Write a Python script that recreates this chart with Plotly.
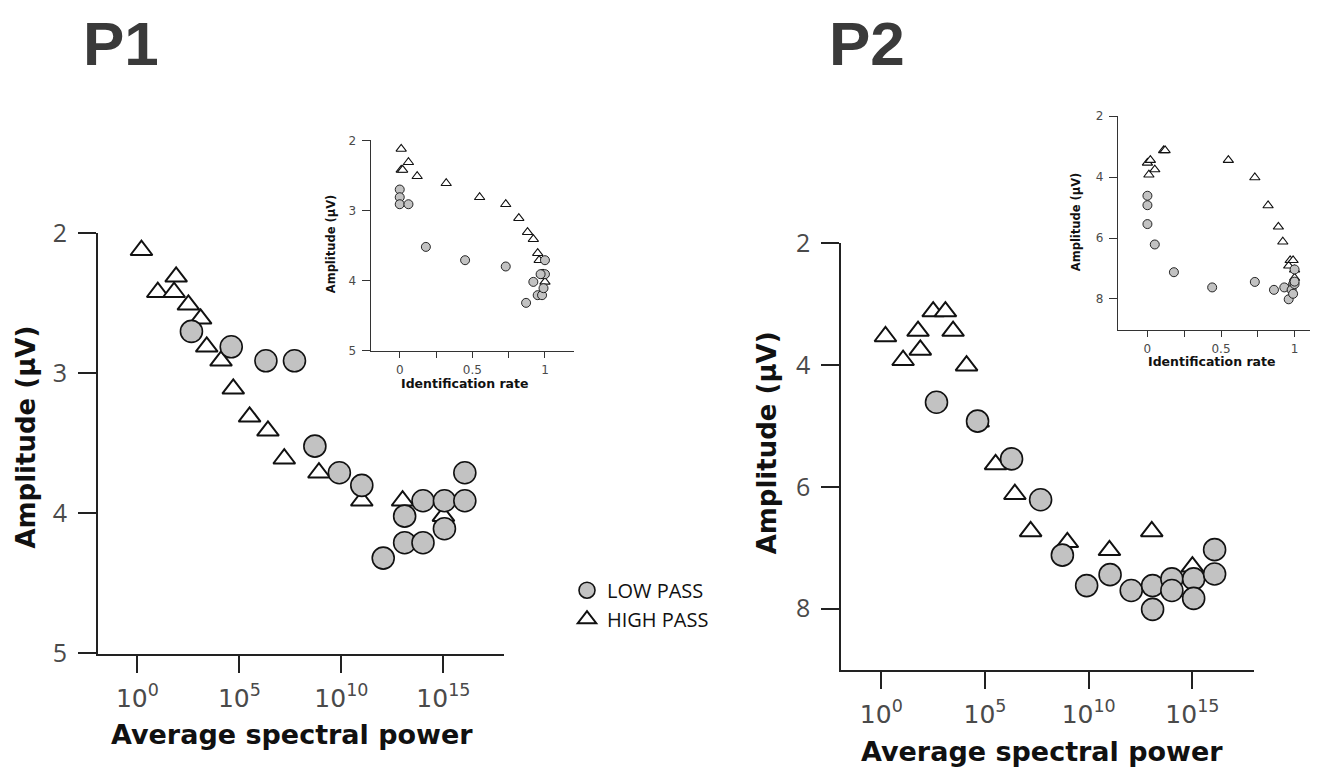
import plotly.graph_objects as go

W, H = 1318, 772

# ---------------- data ----------------
# P1 : HIGH PASS (triangles)
p1_hp_power_exp = [0.2, 1.9, 1.0, 1.8, 2.5, 3.1, 3.4, 4.1, 4.7, 5.5, 6.4, 7.2, 8.9, 11.0, 13.0, 15.0]
p1_hp_amp = [2.12, 2.31, 2.42, 2.42, 2.51, 2.61, 2.81, 2.91, 3.11, 3.31, 3.41, 3.61, 3.71, 3.91, 3.91, 4.02]
p1_hp_idrate = [0.01, 0.06, 0.01, 0.02, 0.12, 0.32, 0.55, 0.73, 0.82, 0.88, 0.92, 0.95, 0.96, 0.98, 0.99, 1.0]

# P1 : LOW PASS (circles)
p1_lp_power_exp = [2.65, 4.6, 6.3, 7.7, 8.7, 9.9, 11.0, 12.05, 13.1, 13.1, 14.0, 14.0, 15.05, 15.05, 16.05, 16.05]
p1_lp_amp = [2.70, 2.81, 2.91, 2.91, 3.52, 3.71, 3.80, 4.32, 4.02, 4.21, 3.91, 4.21, 3.91, 4.11, 3.71, 3.91]
p1_lp_idrate = [0.0, 0.0, 0.0, 0.06, 0.18, 0.45, 0.73, 0.87, 0.92, 0.95, 0.98, 0.98, 1.0, 0.99, 1.0, 0.97]

# P2 : HIGH PASS (triangles)
p2_hp_power_exp = [0.2, 1.05, 1.77, 1.88, 2.5, 3.09, 3.46, 4.11, 4.67, 5.51, 6.44, 7.2, 8.97, 11.0, 13.04, 15.0]
p2_hp_amp = [3.53, 3.92, 3.44, 3.75, 3.12, 3.12, 3.44, 4.01, 4.93, 5.63, 6.12, 6.73, 6.91, 7.04, 6.73, 7.31]
p2_hp_idrate = [0.0, 0.01, 0.02, 0.05, 0.11, 0.12, 0.55, 0.73, 0.82, 0.89, 0.92, 0.97, 0.96, 1.0, 0.99, 1.0]

# P2 : LOW PASS (circles)
p2_lp_power_exp = [2.66, 4.64, 6.28, 7.68, 8.73, 9.9, 11.03, 12.05, 13.08, 13.08, 14.01, 14.01, 15.06, 15.06, 16.07, 16.07]
p2_lp_amp = [4.61, 4.92, 5.54, 6.21, 7.12, 7.62, 7.44, 7.70, 7.62, 8.01, 7.51, 7.70, 7.51, 7.83, 7.03, 7.43]
p2_lp_idrate = [0.0, 0.0, 0.0, 0.05, 0.18, 0.44, 0.73, 0.86, 0.93, 0.96, 0.99, 0.98, 1.0, 0.99, 1.0, 1.0]

power_tickvals = [1, 1e5, 1e10, 1e15]
power_ticktext = ["10<sup>0</sup>", "10<sup>5</sup>", "10<sup>10</sup>", "10<sup>15</sup>"]
p1_amp_ticks = [2, 3, 4, 5]
p2_amp_ticks = [2, 4, 6, 8]
id_tickvals = [0, 0.5, 1]
id_ticktext = ["0", "0.5", "1"]
id_minor_ticks = [0.25, 0.75]

legend_names = ["LOW PASS", "HIGH PASS"]

# ---------------- styles ----------------
CIRCLE_FILL = "#c2c2c2"
EDGE = "#111111"
AXIS = "#222222"
TICKFONT = "#4a4a4a"


def px_x(a, b):
    return [a / W, b / W]


def px_y(top, bottom):
    return [1 - bottom / H, 1 - top / H]


fig = go.Figure()


def add_main(xa, ya, hp_e, hp_a, lp_e, lp_a, show):
    fig.add_trace(go.Scatter(
        x=[10 ** e for e in hp_e], y=hp_a, mode="markers", name=legend_names[1],
        xaxis=xa, yaxis=ya, showlegend=show, legendrank=2,
        marker=dict(symbol="triangle-up", size=19, color="white",
                    line=dict(color=EDGE, width=2)),
    ))
    fig.add_trace(go.Scatter(
        x=[10 ** e for e in lp_e], y=lp_a, mode="markers", name=legend_names[0],
        xaxis=xa, yaxis=ya, showlegend=show, legendrank=1,
        marker=dict(symbol="circle", size=22, color=CIRCLE_FILL,
                    line=dict(color=EDGE, width=1.6)),
    ))


def add_inset(xa, ya, hp_r, hp_a, lp_r, lp_a):
    fig.add_trace(go.Scatter(
        x=hp_r, y=hp_a, mode="markers", xaxis=xa, yaxis=ya, showlegend=False,
        marker=dict(symbol="triangle-up", size=9, color="white",
                    line=dict(color=EDGE, width=1.1)),
    ))
    fig.add_trace(go.Scatter(
        x=lp_r, y=lp_a, mode="markers", xaxis=xa, yaxis=ya, showlegend=False,
        marker=dict(symbol="circle", size=9, color=CIRCLE_FILL,
                    line=dict(color=EDGE, width=0.9)),
    ))


add_main("x", "y", p1_hp_power_exp, p1_hp_amp, p1_lp_power_exp, p1_lp_amp, True)
add_inset("x2", "y2", p1_hp_idrate, p1_hp_amp, p1_lp_idrate, p1_lp_amp)
add_main("x3", "y3", p2_hp_power_exp, p2_hp_amp, p2_lp_power_exp, p2_lp_amp, False)
add_inset("x4", "y4", p2_hp_idrate, p2_hp_amp, p2_lp_idrate, p2_lp_amp)

main_x = dict(type="log", range=[-1.93, 17.97], tickvals=power_tickvals, ticktext=power_ticktext,
              showline=True, linecolor=AXIS, linewidth=2, ticks="outside", ticklen=17,
              tickwidth=2, tickcolor=AXIS, showgrid=False, zeroline=False,
              tickfont=dict(family="DejaVu Sans", size=25, color=TICKFONT), ticklabelstandoff=4)
main_y = dict(showline=True, linecolor=AXIS, linewidth=2, ticks="outside", ticklen=18,
              tickwidth=2, tickcolor=AXIS, showgrid=False, zeroline=False,
              tickfont=dict(family="Open Sans", size=25, color=TICKFONT), ticklabelstandoff=6)
inset_x = dict(range=[-0.2, 1.2], tickvals=id_tickvals, ticktext=id_ticktext,
               showline=True, linecolor="#333333", linewidth=1.3, ticks="outside", ticklen=6,
               tickwidth=1.3, tickcolor="#333333", showgrid=False, zeroline=False,
               minor=dict(tickvals=id_minor_ticks, ticks="outside", ticklen=6, tickwidth=1.3,
                          tickcolor="#333333", showgrid=False),
               tickfont=dict(family="DejaVu Sans", size=12, color=TICKFONT), ticklabelstandoff=2)
inset_y = dict(showline=True, linecolor="#333333", linewidth=1.3, ticks="outside", ticklen=8,
               tickwidth=1.3, tickcolor="#333333", showgrid=False, zeroline=False,
               tickfont=dict(family="DejaVu Sans", size=12, color=TICKFONT), ticklabelstandoff=3)

fig.update_layout(
    width=W, height=H, margin=dict(l=0, r=0, t=0, b=0),
    paper_bgcolor="white", plot_bgcolor="white",
    xaxis=dict(main_x, domain=px_x(90, 496), anchor="y"),
    yaxis=dict(main_y, domain=px_y(216, 656), anchor="x", range=[5.005, 1.995], tickvals=p1_amp_ticks),
    xaxis2=dict(inset_x, domain=px_x(362.7, 566), anchor="y2"),
    yaxis2=dict(inset_y, domain=px_y(119.3, 339.3), anchor="x2", range=[5.005, 1.995], tickvals=p1_amp_ticks),
    xaxis3=dict(main_x, domain=px_x(833.3, 1246), anchor="y3"),
    yaxis3=dict(main_y, domain=px_y(226.7, 672.7), anchor="x3", range=[9.005, 1.995], tickvals=p2_amp_ticks),
    xaxis4=dict(inset_x, domain=px_x(1110, 1316), anchor="y4"),
    yaxis4=dict(inset_y, domain=px_y(94, 317.3), anchor="x4", range=[9.01, 1.99], tickvals=p2_amp_ticks),
    legend=dict(x=559 / W, y=1 - 569 / H, xanchor="left", yanchor="top",
                font=dict(family="Open Sans", size=20, color="#111111"),
                bgcolor="rgba(0,0,0,0)", tracegroupgap=0),
    showlegend=True,
)


def ann(text, x, y, size, angle=0, color="#111111", family="DejaVu Sans", weight="bold",
        yanchor="middle"):
    fig.add_annotation(text=text, x=x / W, y=1 - y / H, xref="paper", yref="paper",
                       showarrow=False, textangle=angle, xanchor="center", yanchor=yanchor,
                       font=dict(family=family, size=size, color=color, weight=weight))


# panel titles
ann("P1", 113, 18, 62, family="Liberation Sans", color="#3a3a3a")
ann("P2", 859, 18, 62, family="Liberation Sans", color="#3a3a3a")
# main axis titles
ann("Amplitude (µV)", 18, 430, 26, angle=-90)
ann("Average spectral power", 284, 740, 27)
ann("Amplitude (µV)", 759, 436, 26, angle=-90)
ann("Average spectral power", 1034, 758, 27)
# inset axis titles
ann("Amplitude (µV)", 323, 228, 11.5, angle=-90)
ann("Identification rate", 457, 373, 12.5)
ann("Amplitude (µV)", 1068, 205, 11.5, angle=-90)
ann("Identification rate", 1204, 351, 12.5)

fig.write_html("out.html")
